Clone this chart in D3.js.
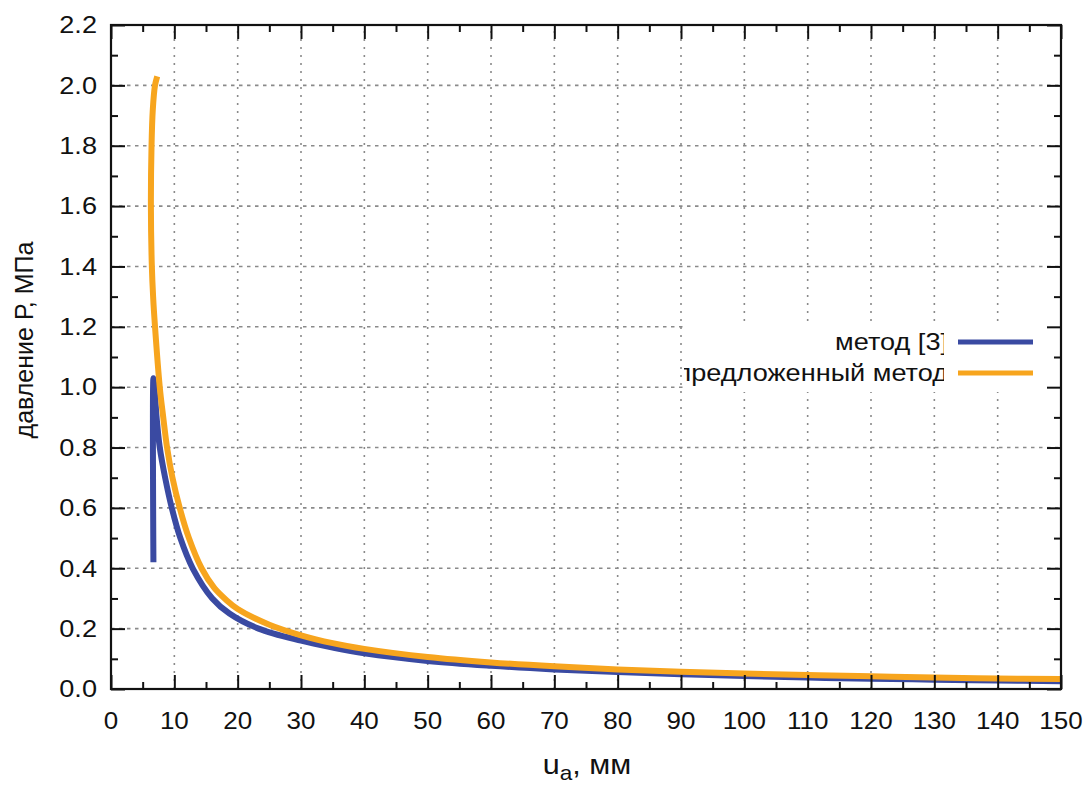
<!DOCTYPE html>
<html><head><meta charset="utf-8">
<script src="https://cdn.jsdelivr.net/npm/d3@7"></script>
<style>body{margin:0;background:#fff}svg{display:block}text{font-family:"Liberation Sans",Arial,sans-serif;fill:#111}</style>
</head><body>
<svg id="c" width="1086" height="785"></svg>
<script>
// ---- data ----
const seriesNames = ["метод [3]", "предложенный метод"];
const blueX = [6.7, 6.7, 6.85, 7.2, 7.7, 8.55, 9.6, 10.95, 12.9, 16.0, 18.7, 23.3, 30, 35, 40, 50, 60, 70, 80, 90, 100, 110, 120, 130, 140, 150];
const blueY = [0.42, 1.03, 1.0, 0.9, 0.8, 0.7, 0.6, 0.5, 0.4, 0.3, 0.25, 0.2, 0.16, 0.137, 0.118, 0.093, 0.077, 0.065, 0.056, 0.049, 0.043, 0.038, 0.034, 0.031, 0.028, 0.026];
const orangeX = [7.3, 6.95, 6.6, 6.4, 6.3, 6.45, 6.65, 6.95, 7.7, 8.25, 8.85, 9.7, 10.85, 12.3, 14.3, 16.3, 18.2, 20, 25, 30, 35, 40, 50, 60, 70, 80, 90, 100, 110, 120, 130, 140, 150];
const orangeY = [2.03, 2.0, 1.92, 1.8, 1.6, 1.4, 1.3, 1.2, 1.0, 0.9, 0.8, 0.7, 0.6, 0.5, 0.4, 0.335, 0.295, 0.265, 0.213, 0.178, 0.152, 0.133, 0.106, 0.088, 0.075, 0.065, 0.057, 0.051, 0.046, 0.042, 0.038, 0.035, 0.033];
const xTickValues = [0, 10, 20, 30, 40, 50, 60, 70, 80, 90, 100, 110, 120, 130, 140, 150];
const xMinorValues = [5, 15, 25, 35, 45, 55, 65, 75, 85, 95, 105, 115, 125, 135, 145];
const yTickValues = [0, 0.2, 0.4, 0.6, 0.8, 1.0, 1.2, 1.4, 1.6, 1.8, 2.0, 2.2];
const yMinorValues = [0.1, 0.3, 0.5, 0.7, 0.9, 1.1, 1.3, 1.5, 1.7, 1.9, 2.1];
const xTitle = "u", xTitleSub = "a", xTitleRest = ", мм";
const yTitle = "давление Р, МПа";

// ---- layout ----
const L = 111, R = 1061, T = 25, B = 689;
const SX = 1.13; // horizontal glyph stretch of the reference
const colors = ["#3a4aa2", "#f7a51e"];

const svg = d3.select("#c");
const x = d3.scaleLinear().domain([0, 150]).range([L, R]);
const y = d3.scaleLinear().domain([0, 2.2]).range([B, T]);

// grid
const grid = svg.append("g").attr("stroke", "#8a8a8a").attr("stroke-width", 1.6);
grid.selectAll(".gv").data(xTickValues.filter(v => v > 0 && v < 150)).join("line")
  .attr("x1", d => x(d)).attr("x2", d => x(d)).attr("y1", B).attr("y2", T)
  .attr("stroke-dasharray", "2,6");
grid.selectAll(".gh").data(yTickValues.filter(v => v > 0 && v < 2.2)).join("line")
  .attr("y1", d => y(d)).attr("y2", d => y(d)).attr("x1", L).attr("x2", R)
  .attr("stroke-dasharray", "3.5,4.5");

// legend background
svg.append("rect").attr("x", 684).attr("y", 326).attr("width", R - 684).attr("height", 66).attr("fill", "#fff");

// curves
const line = d3.line().x(d => x(d[0])).y(d => y(d[1])).curve(d3.curveCatmullRom.alpha(0.5));
const blue = blueX.map((v, i) => [v, blueY[i]]);
const orange = orangeX.map((v, i) => [v, orangeY[i]]);
svg.append("path").attr("d", line(blue)).attr("fill", "none").attr("stroke", colors[0]).attr("stroke-width", 6);
svg.append("path").attr("d", line(orange)).attr("fill", "none").attr("stroke", colors[1]).attr("stroke-width", 6);

// axes (ticks inward on all four sides)
function axisG(axis, tr) {
  const g = svg.append("g").attr("transform", tr).call(axis);
  g.select(".domain").remove();
  g.selectAll("line").attr("stroke", "#111").attr("stroke-width", 2);
  g.selectAll("text").remove();
  return g;
}
axisG(d3.axisBottom(x).tickValues(xTickValues).tickSize(-14), `translate(0,${B})`);
axisG(d3.axisBottom(x).tickValues(xMinorValues).tickSize(-7), `translate(0,${B})`);
axisG(d3.axisTop(x).tickValues(xTickValues).tickSize(-14), `translate(0,${T})`);
axisG(d3.axisTop(x).tickValues(xMinorValues).tickSize(-7), `translate(0,${T})`);
axisG(d3.axisLeft(y).tickValues(yTickValues).tickSize(-14), `translate(${L},0)`);
axisG(d3.axisLeft(y).tickValues(yMinorValues).tickSize(-7), `translate(${L},0)`);
axisG(d3.axisRight(y).tickValues(yTickValues).tickSize(-14), `translate(${R},0)`);
axisG(d3.axisRight(y).tickValues(yMinorValues).tickSize(-7), `translate(${R},0)`);
svg.append("rect").attr("x", L).attr("y", T).attr("width", R - L).attr("height", B - T)
  .attr("fill", "none").attr("stroke", "#111").attr("stroke-width", 2.2);

// tick labels
svg.append("g").selectAll("text").data(xTickValues).join("text")
  .attr("transform", d => `translate(${x(d)},729) scale(${SX},1)`)
  .attr("text-anchor", "middle").attr("font-size", 23).text(d => d);
svg.append("g").selectAll("text").data(yTickValues).join("text")
  .attr("transform", d => `translate(97,${y(d) + 8.3}) scale(${SX + 0.05},1)`)
  .attr("text-anchor", "end").attr("font-size", 23).text(d3.format(".1f"));

// axis titles
const xt = svg.append("text").attr("transform", `translate(587,774) scale(${SX},1)`)
  .attr("text-anchor", "middle").attr("font-size", 27);
xt.append("tspan").text(xTitle);
xt.append("tspan").attr("font-size", 20).attr("dy", 6).text(xTitleSub);
xt.append("tspan").attr("dy", -6).text(xTitleRest);
svg.append("text").attr("transform", "translate(33,340) rotate(-90)")
  .attr("text-anchor", "middle").attr("font-size", 25).text(yTitle);

// legend
svg.append("clipPath").attr("id", "lc").append("rect").attr("x", 684).attr("y", 320).attr("width", 260).attr("height", 80);
const lg = svg.append("g").attr("clip-path", "url(#lc)");
const ly = [342, 373];
lg.selectAll("text").data(seriesNames).join("text")
  .attr("transform", (d, i) => `translate(948,${ly[i] + 8}) scale(${SX},1)`)
  .attr("text-anchor", "end").attr("font-size", 24).text(d => d);
svg.append("g").selectAll("line").data(seriesNames).join("line")
  .attr("x1", 958).attr("x2", 1033).attr("y1", (d, i) => ly[i]).attr("y2", (d, i) => ly[i])
  .attr("stroke", (d, i) => colors[i]).attr("stroke-width", 5);
</script>
</body></html>
